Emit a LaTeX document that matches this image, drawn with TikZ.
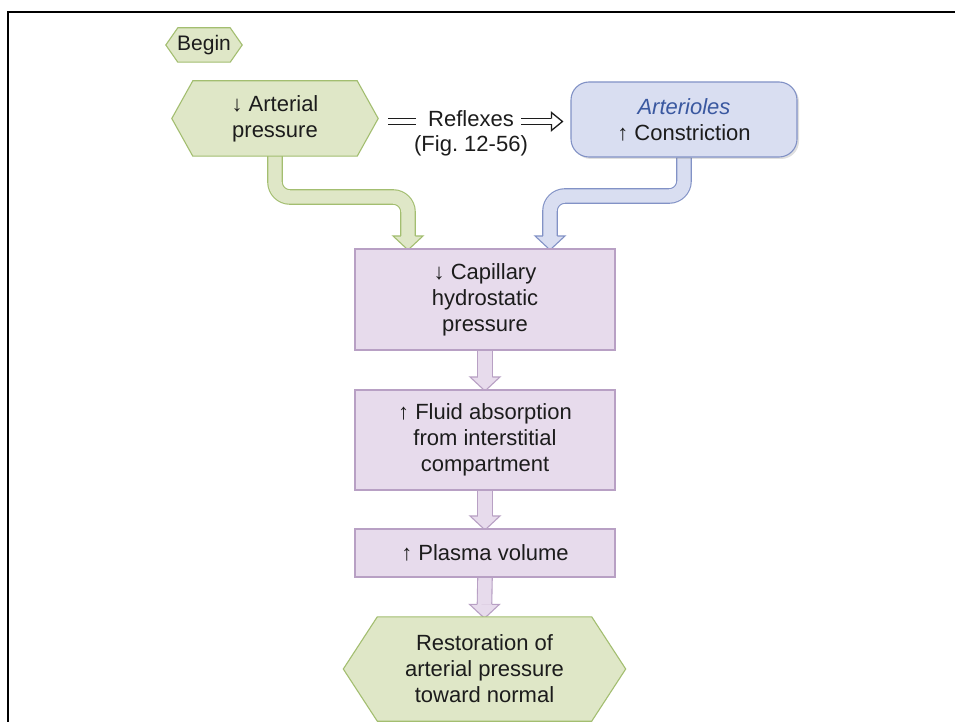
\documentclass[tikz,border=0pt]{standalone}
\usepackage{fontspec}
\setmainfont{Liberation Sans}
\usetikzlibrary{calc,backgrounds,shadows}

\definecolor{leafFill}{RGB}{223,231,199}
\definecolor{leafLine}{RGB}{163,190,112}
\definecolor{lilacFill}{RGB}{231,219,236}
\definecolor{lilacLine}{RGB}{184,160,196}
\definecolor{skyFill}{RGB}{217,222,241}
\definecolor{skyLine}{RGB}{130,146,198}
\definecolor{skyText}{RGB}{58,88,160}
\definecolor{ink}{RGB}{28,28,28}

\tikzset{
  txt/.style={font=\fontsize{22}{26}\selectfont, text=ink, align=center, inner sep=0pt},
  lilacbox/.style={txt, draw=lilacLine, fill=lilacFill, line width=1.1pt,
    minimum width=260pt},
  skybox/.style={txt, draw=skyLine, fill=skyFill, line width=1.1pt,
    rounded corners=18pt, minimum width=226pt, minimum height=75pt,
    drop shadow={shadow xshift=2pt, shadow yshift=-2pt, opacity=0.25}},
  hexshape/.style={draw=leafLine, fill=leafFill, line width=1.1pt, line join=miter},
  fatshaft/.style 2 args={draw=#1, double=#2, double distance=13.4pt,
    line width=1.1pt, rounded corners=15pt},
  eqline/.style={draw=ink, double=white, double distance=4.2pt, line width=1.3pt},
  openhead/.style={draw=ink, fill=white, line width=1.3pt, line join=miter},
}

% outline of a six-sided box around a node; #2 is the depth of the side points
\newcommand\hexoutline[2]{%
  \filldraw[hexshape] (#1.west) -- ([xshift=#2]#1.north west)
    -- ([xshift=-#2]#1.north east) -- (#1.east)
    -- ([xshift=-#2]#1.south east) -- ([xshift=#2]#1.south west) -- cycle;}

% head of a broad arrow whose tip is at #1
\newcommand\fathead[3]{%
  \filldraw[draw=#2, fill=#3, line width=1.1pt, line join=miter]
    ($(#1)+(-7.25,-14)$) -- ($(#1)+(-15,-14)$) -- (#1)
    -- ($(#1)+(15,-14)$) -- ($(#1)+(7.25,-14)$);}

\begin{document}
\begin{tikzpicture}[x=1pt, y=-1pt]
  \useasboundingbox (0,0) rectangle (955,722);

  % frame
  \draw[line width=2.8pt, black] (955,12) -- (8,12) -- (8,722);

  % nodes
  \node[txt, font=\fontsize{21}{25}\selectfont, minimum width=76pt, minimum height=34pt]
    (begin) at (204,45) {Begin};
  \node[txt, minimum width=206pt, minimum height=75pt] (art) at (275,118.5)
    {↓ Arterial\\pressure};
  \node[txt, text height=11pt, text depth=0pt] (refl) at (471,121.5) {Reflexes};
  \node[txt, anchor=base] (fig) at (471,152) {(Fig.\ 12-56)};
  \node[skybox] (artl) at (684,119.5)
    {{\color{skyText}\itshape Arterioles}\\↑ Constriction};
  \node[lilacbox, minimum height=101pt] (cap) at (485,299.5)
    {↓ Capillary\\hydrostatic\\pressure};
  \node[lilacbox, minimum height=100pt] (fluid) at (485,440)
    {↑ Fluid absorption\\from interstitial\\compartment};
  \node[lilacbox, minimum height=48pt] (plasma) at (485,553) {↑ Plasma volume};
  \node[txt, minimum width=282pt, minimum height=104pt] (rest) at (484.5,669)
    {Restoration of\\arterial pressure\\toward normal};

  % reflex link: double line, then a double arrow with a hollow head
  \draw[eqline] ([xshift=10pt]art.east |- refl.west) -- ([xshift=-12pt]refl.west);
  \coordinate (rTip) at ([xshift=-8pt]artl.west |- refl.east);
  \draw[eqline] ([xshift=7pt]refl.east) -- ($(rTip)+(-11,0)$);
  \filldraw[openhead] ($(rTip)+(-11,-2.75)$) -- ($(rTip)+(-11,-9)$) -- (rTip)
    -- ($(rTip)+(-11,9)$) -- ($(rTip)+(-11,2.75)$);

  % arrow tips and bends
  \coordinate (gTip) at ($(cap.north)+(-77,1.5)$);
  \coordinate (bTip) at ($(cap.north)+(65,1.5)$);
  \coordinate (p1Tip) at ($(fluid.north)+(0,1.5)$);
  \coordinate (p2Tip) at ($(plasma.north)+(0,1.5)$);
  \coordinate (p3Tip) at ($(rest.north)+(0,1.5)$);
  \coordinate (gBend) at (342,197);
  \coordinate (bBend) at (617,196);

  \begin{pgfonlayer}{background}
    \fill[white] (0,0) rectangle (955,722);
    % broad arrows
    \fathead{gTip}{leafLine}{leafFill}
    \draw[fatshaft={leafLine}{leafFill}] (art.south) |- (gBend) -| ($(gTip)+(0,-14)$);
    \fathead{bTip}{skyLine}{skyFill}
    \draw[fatshaft={skyLine}{skyFill}] (artl.south) |- (bBend) -| ($(bTip)+(0,-14)$);
    \fathead{p1Tip}{lilacLine}{lilacFill}
    \draw[fatshaft={lilacLine}{lilacFill}] (cap.south) -- ($(p1Tip)+(0,-14)$);
    \fathead{p2Tip}{lilacLine}{lilacFill}
    \draw[fatshaft={lilacLine}{lilacFill}] (fluid.south) -- ($(p2Tip)+(0,-14)$);
    \fathead{p3Tip}{lilacLine}{lilacFill}
    \draw[fatshaft={lilacLine}{lilacFill}] (plasma.south) -- ($(p3Tip)+(0,-14)$);
    % six-sided boxes
    \hexoutline{begin}{12pt}
    \hexoutline{art}{21pt}
    \hexoutline{rest}{34pt}
  \end{pgfonlayer}
\end{tikzpicture}
\end{document}
